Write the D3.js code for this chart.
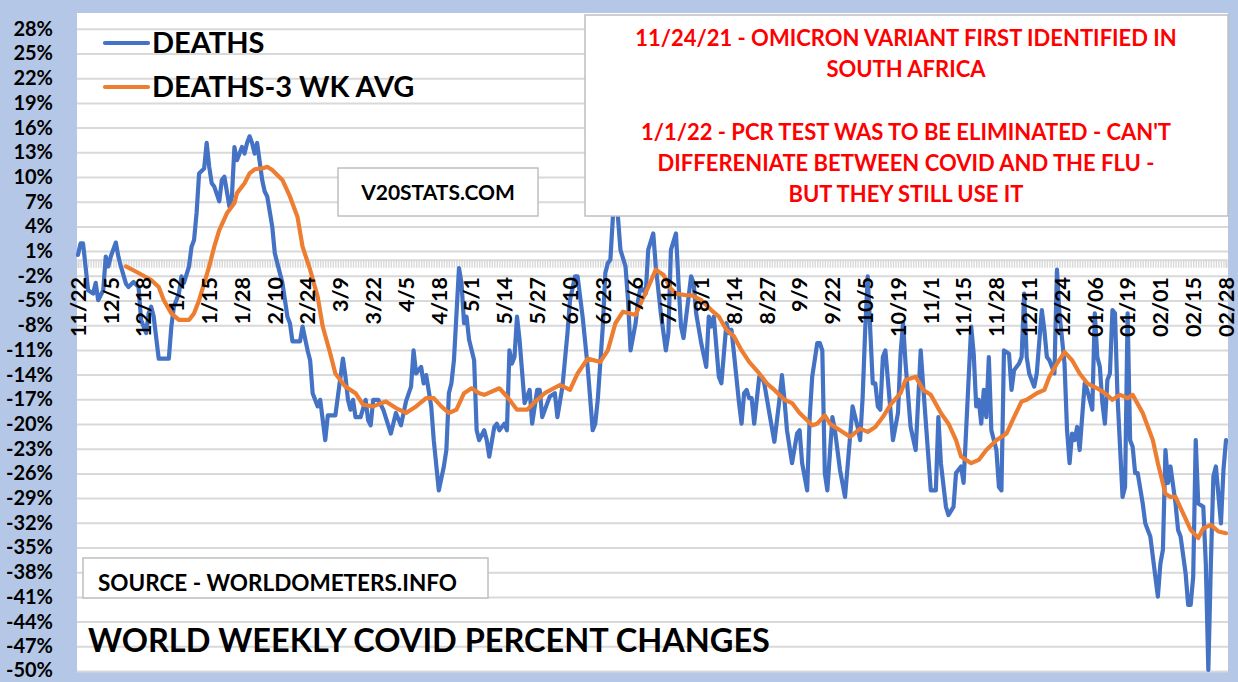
<!DOCTYPE html>
<html><head><meta charset="utf-8">
<script src="https://cdn.jsdelivr.net/npm/d3@7"></script>
<style>
html,body{margin:0;padding:0;background:#b4c7e7;}
svg{display:block;font-family:Lato,"Open Sans",sans-serif;font-weight:700;}
</style></head><body>
<svg id="chart" width="1238" height="682"></svg>
<script>
// ---- data ----
const xLabels = ["11/22","12/5","12/18","1/2","1/15","1/28","2/10","2/24","3/9","3/22","4/5","4/18","5/1","5/14","5/27","6/10","6/23","7/6","7/19","8/1","8/14","8/27","9/9","9/22","10/5","10/19","11/1","11/15","11/28","12/11","12/24","01/06","01/19","02/01","02/15","02/28"];
const labelEvery = 13;
const nDays = 456;
const yTicks = [28,25,22,19,16,13,10,7,4,1,-2,-5,-8,-11,-14,-17,-20,-23,-26,-29,-32,-35,-38,-41,-44,-47,-50];
const seriesNames = ["DEATHS","DEATHS-3 WK AVG"];
const seriesColors = ["#4472C4","#ED7D31"];
// [day index, weekly % change]
const deaths = [[0,0.6],[1,2.0],[2,2.0],[3,-0.8],[4,-3.7],[6,-4.1],[7,-2.8],[8,-4.9],[10,-3.7],[11,0.4],[12,-0.8],[13,0.4],[15,2.1],[16,0.4],[17,-0.8],[19,-2.9],[20,-3.3],[22,-2.7],[24,-3.3],[25,-7.3],[27,-8.9],[28,-6.5],[29,-5.7],[30,-6.9],[32,-12.0],[36,-12.0],[37,-8.1],[38,-5.7],[40,-4.1],[41,-2.0],[42,-2.8],[44,-0.8],[45,1.6],[46,2.4],[47,5.7],[48,10.5],[50,11.1],[51,14.2],[52,11.3],[53,9.3],[54,8.9],[56,7.1],[57,9.7],[58,10.1],[60,6.5],[61,7.7],[62,13.7],[63,12.1],[65,13.7],[66,12.9],[67,14.2],[68,15.0],[69,14.2],[70,12.9],[71,14.2],[73,9.7],[74,8.3],[75,7.7],[77,4.0],[78,0.8],[79,-0.4],[81,-2.8],[83,-6.9],[84,-7.7],[85,-9.9],[88,-9.9],[89,-8.1],[91,-11.0],[92,-12.2],[93,-16.2],[95,-17.8],[96,-17.0],[98,-21.9],[99,-18.9],[102,-18.9],[103,-16.6],[105,-12.0],[106,-14.2],[107,-17.0],[108,-18.2],[109,-17.0],[110,-19.1],[112,-19.1],[114,-17.0],[115,-19.5],[116,-20.1],[117,-17.0],[119,-17.0],[121,-18.2],[124,-21.1],[126,-18.6],[128,-20.1],[130,-17.2],[132,-15.4],[133,-11.0],[134,-13.8],[136,-13.0],[137,-15.0],[138,-14.0],[140,-17.8],[141,-21.9],[143,-28.0],[145,-25.1],[146,-23.1],[147,-16.2],[148,-15.0],[149,-12.2],[151,-1.0],[152,-2.8],[153,-7.7],[154,-6.9],[155,-9.7],[157,-12.2],[158,-20.7],[159,-21.9],[161,-20.7],[162,-21.9],[163,-23.9],[165,-20.3],[166,-19.9],[167,-20.7],[169,-19.9],[170,-20.7],[171,-11.0],[172,-12.6],[173,-11.8],[174,-6.9],[175,-9.7],[177,-17.4],[179,-15.8],[180,-19.9],[182,-15.8],[183,-15.8],[184,-19.1],[186,-17.4],[187,-16.6],[189,-16.2],[190,-19.1],[192,-15.4],[194,-8.9],[195,-4.9],[197,-2.0],[198,-2.0],[200,-6.9],[202,-13.0],[204,-20.7],[205,-19.9],[206,-17.0],[208,-8.1],[209,-1.6],[210,-0.4],[211,0.0],[212,5.2],[213,9.0],[214,5.2],[215,1.2],[217,-0.8],[218,-4.9],[219,-11.0],[221,-7.7],[222,-4.9],[223,-3.3],[225,-4.1],[226,1.2],[228,3.2],[229,-0.8],[231,-6.5],[233,-11.0],[234,-8.9],[235,1.2],[237,3.2],[238,-2.8],[239,-8.1],[240,-9.5],[242,-4.5],[243,-2.0],[244,-2.8],[245,-6.5],[247,-10.1],[249,-13.0],[250,-6.9],[251,-8.1],[252,-6.9],[254,-14.2],[255,-15.0],[257,-7.7],[258,-8.9],[259,-8.5],[260,-11.4],[262,-17.4],[263,-19.9],[264,-16.2],[265,-15.8],[266,-16.8],[267,-16.8],[268,-19.9],[270,-14.2],[271,-14.2],[272,-15.0],[274,-18.6],[276,-22.1],[278,-17.0],[279,-14.0],[280,-17.0],[281,-20.7],[283,-24.7],[285,-21.1],[286,-20.7],[287,-24.7],[289,-28.0],[290,-19.1],[291,-14.2],[293,-10.1],[294,-10.1],[295,-11.0],[296,-25.9],[297,-28.0],[299,-19.1],[300,-20.7],[302,-25.5],[304,-28.8],[306,-21.5],[307,-17.8],[309,-20.3],[310,-21.9],[311,-16.6],[312,-8.5],[313,-2.0],[315,-15.0],[316,-15.0],[317,-17.8],[318,-18.2],[319,-11.8],[320,-11.0],[321,-14.6],[323,-21.9],[325,-18.6],[326,-11.5],[327,-7.7],[328,-12.6],[330,-20.3],[332,-23.1],[334,-11.0],[335,-15.4],[338,-28.0],[340,-28.0],[341,-19.1],[342,-24.7],[344,-30.0],[345,-31.0],[347,-30.0],[348,-25.9],[350,-25.1],[351,-27.1],[352,-20.7],[354,-8.1],[355,-11.4],[356,-17.8],[357,-17.0],[358,-19.9],[359,-15.8],[360,-19.1],[361,-11.8],[362,-20.7],[364,-23.1],[365,-27.6],[366,-28.0],[367,-11.0],[369,-11.4],[370,-15.8],[371,-13.4],[373,-12.6],[374,-11.8],[375,-4.1],[376,-11.8],[377,-13.8],[379,-15.4],[380,-13.8],[382,-6.1],[383,-8.5],[384,-11.8],[385,-12.2],[387,-13.8],[388,-1.2],[389,-6.5],[391,-12.6],[392,-20.7],[393,-24.7],[394,-21.1],[395,-21.9],[396,-20.3],[397,-23.1],[399,-15.0],[400,-15.8],[402,-18.2],[403,-6.5],[404,-11.8],[405,-13.0],[406,-17.4],[407,-19.9],[408,-14.6],[409,-13.8],[410,-6.1],[411,-6.5],[412,-16.6],[414,-28.8],[415,-27.6],[416,-6.5],[417,-21.9],[418,-22.7],[419,-25.9],[420,-25.9],[422,-29.6],[423,-32.0],[424,-32.8],[425,-33.6],[427,-38.5],[428,-40.9],[429,-36.9],[430,-35.2],[431,-23.1],[432,-27.1],[433,-25.1],[435,-29.6],[436,-32.8],[437,-33.6],[439,-38.1],[440,-41.9],[441,-41.9],[442,-38.5],[443,-21.9],[444,-29.6],[446,-30.0],[447,-36.9],[448,-49.8],[449,-36.9],[450,-26.3],[451,-25.1],[453,-32.0],[454,-25.5],[455,-21.9]];
const deathsAvg = [[19,-0.8],[24,-1.6],[29,-2.45],[32,-3.3],[34,-4.9],[37,-6.5],[40,-7.3],[44,-7.3],[46,-6.5],[48,-4.9],[50,-2.85],[52,-0.8],[54,1.6],[56,3.6],[59,5.65],[62,6.9],[63,8.1],[66,9.3],[68,10.5],[70,11.0],[73,11.1],[75,11.3],[77,10.9],[81,9.7],[84,7.7],[87,5.2],[89,1.6],[92,-1.2],[95,-4.5],[97,-8.1],[100,-11.4],[102,-13.8],[106,-15.4],[110,-16.2],[113,-17.6],[117,-17.8],[122,-17.2],[126,-18.0],[130,-18.6],[134,-17.8],[138,-16.8],[141,-16.8],[144,-17.8],[147,-18.6],[150,-18.2],[153,-16.2],[156,-15.6],[159,-16.2],[161,-16.4],[167,-15.6],[170,-16.6],[174,-18.2],[178,-18.2],[182,-17.0],[185,-16.2],[191,-15.2],[195,-15.8],[198,-13.8],[202,-12.0],[207,-12.4],[210,-11.0],[213,-7.7],[216,-6.3],[221,-6.7],[223,-5.3],[226,-3.3],[229,-1.2],[232,-1.8],[235,-3.5],[237,-4.1],[241,-4.3],[243,-4.3],[247,-4.9],[251,-6.1],[254,-6.9],[257,-8.5],[260,-9.3],[263,-11.0],[266,-12.4],[270,-13.8],[273,-15.0],[276,-15.8],[280,-17.0],[283,-17.4],[286,-18.6],[291,-20.1],[293,-19.9],[296,-18.9],[298,-19.9],[302,-20.7],[306,-21.5],[310,-20.5],[313,-20.9],[316,-20.3],[319,-19.1],[322,-17.6],[326,-16.2],[328,-14.6],[332,-14.2],[335,-15.8],[338,-16.4],[342,-18.6],[345,-19.9],[348,-21.9],[350,-23.9],[354,-24.7],[357,-24.3],[360,-23.1],[364,-21.9],[368,-21.1],[371,-19.1],[374,-17.2],[376,-17.0],[380,-16.2],[383,-15.8],[385,-14.2],[388,-12.6],[391,-11.2],[394,-12.2],[397,-13.8],[400,-15.0],[404,-15.6],[407,-16.2],[410,-17.0],[413,-16.4],[416,-16.8],[418,-16.4],[422,-18.6],[426,-21.9],[428,-24.7],[431,-28.4],[433,-28.8],[435,-28.8],[438,-30.8],[441,-32.8],[444,-33.8],[446,-32.6],[449,-32.2],[452,-33.0],[455,-33.2]];
const noteLines = ["11/24/21 - OMICRON VARIANT FIRST IDENTIFIED IN","SOUTH AFRICA","","1/1/22 - PCR TEST WAS TO BE ELIMINATED - CAN'T","DIFFERENIATE BETWEEN COVID AND THE FLU -","BUT THEY STILL USE IT"];
const siteText = "V20STATS.COM";
const sourceText = "SOURCE - WORLDOMETERS.INFO";
const titleText = "WORLD WEEKLY COVID PERCENT CHANGES";

// ---- layout ----
const W = 1238, H = 682;
const plot = {left:77, right:1228, top:13, bottom:672};
const svg = d3.select("#chart");
svg.append("rect").attr("width",W).attr("height",H).attr("fill","#b4c7e7");
svg.append("rect").attr("x",plot.left).attr("y",plot.top)
  .attr("width",plot.right-plot.left).attr("height",plot.bottom-plot.top).attr("fill","#ffffff");

const x = d3.scaleLinear().domain([0,nDays-1]).range([78,1226]);
const y = d3.scaleLinear().domain([-50,28]).range([671.5,29.3]);

// gridlines
svg.append("g").selectAll("line").data(yTicks).join("line")
  .attr("x1",plot.left).attr("x2",plot.right)
  .attr("y1",d=>y(d)).attr("y2",d=>y(d))
  .attr("stroke","#d9d9d9").attr("stroke-width",2);

// category axis at 0 with a tick per day
const xAxis = d3.axisBottom(x).tickValues(d3.range(0,nDays)).tickSize(8).tickFormat("");
const ax = svg.append("g").attr("transform",`translate(0,${y(0)})`).call(xAxis);
ax.select(".domain").attr("stroke","#d9d9d9").attr("stroke-width",2);
ax.selectAll(".tick line").attr("stroke","#d9d9d9").attr("stroke-width",1.4);

// lines
const line = d3.line().x(d=>x(d[0])).y(d=>y(d[1])).curve(d3.curveLinear);
svg.append("path").datum(deaths).attr("d",line).attr("fill","none")
  .attr("stroke",seriesColors[0]).attr("stroke-width",4.2).attr("stroke-linejoin","round").attr("stroke-linecap","round");
svg.append("path").datum(deathsAvg).attr("d",line).attr("fill","none")
  .attr("stroke",seriesColors[1]).attr("stroke-width",4.2).attr("stroke-linejoin","round").attr("stroke-linecap","round");

// x labels (rotated)
svg.append("g").selectAll("text").data(xLabels).join("text")
  .attr("transform",(d,i)=>`translate(${x(i*labelEvery)},277) rotate(-90)`)
  .attr("text-anchor","end").attr("dy","0.36em")
  .attr("font-size",21.5).attr("fill","#000").text(d=>d);

// y labels
svg.append("g").selectAll("text").data(yTicks).join("text")
  .attr("x",53).attr("y",d=>Math.min(y(d),671)).attr("dy","0.32em").attr("text-anchor","end")
  .attr("font-size",20).attr("fill","#000").text(d=>d+"%");

// legend
const lg = svg.append("g");
seriesNames.forEach((n,i)=>{
  const ly = 43 + i*44;
  lg.append("line").attr("x1",105).attr("x2",148).attr("y1",ly).attr("y2",ly)
    .attr("stroke",seriesColors[i]).attr("stroke-width",4.2).attr("stroke-linecap","round");
  lg.append("text").attr("x",152).attr("y",ly).attr("dy","0.36em")
    .attr("font-size",29).attr("fill","#000").text(n);
});

// site box
svg.append("rect").attr("x",338).attr("y",168).attr("width",200).attr("height",48)
  .attr("fill","#fff").attr("stroke","#bfbfbf").attr("stroke-width",1.5);
svg.append("text").attr("x",438).attr("y",192).attr("dy","0.36em").attr("text-anchor","middle")
  .attr("font-size",21).attr("fill","#000").text(siteText);

// note box
svg.append("rect").attr("x",585).attr("y",15).attr("width",643).attr("height",201)
  .attr("fill","#fff").attr("stroke","#bfbfbf").attr("stroke-width",1.5);
svg.append("g").selectAll("text").data(noteLines).join("text")
  .attr("x",906).attr("y",(d,i)=>38+i*31.2).attr("dy","0.36em").attr("text-anchor","middle")
  .attr("font-size",22).attr("fill","#ff0000").text(d=>d);

// source box
svg.append("rect").attr("x",83).attr("y",558).attr("width",405).attr("height",40)
  .attr("fill","#fff").attr("stroke","#bfbfbf").attr("stroke-width",1.5);
svg.append("text").attr("x",98).attr("y",583).attr("dy","0.36em")
  .attr("font-size",22.5).attr("fill","#000").text(sourceText);

// title
svg.append("text").attr("x",88).attr("y",652)
  .attr("font-size",32.5).attr("fill","#000").text(titleText);
</script>
</body></html>
